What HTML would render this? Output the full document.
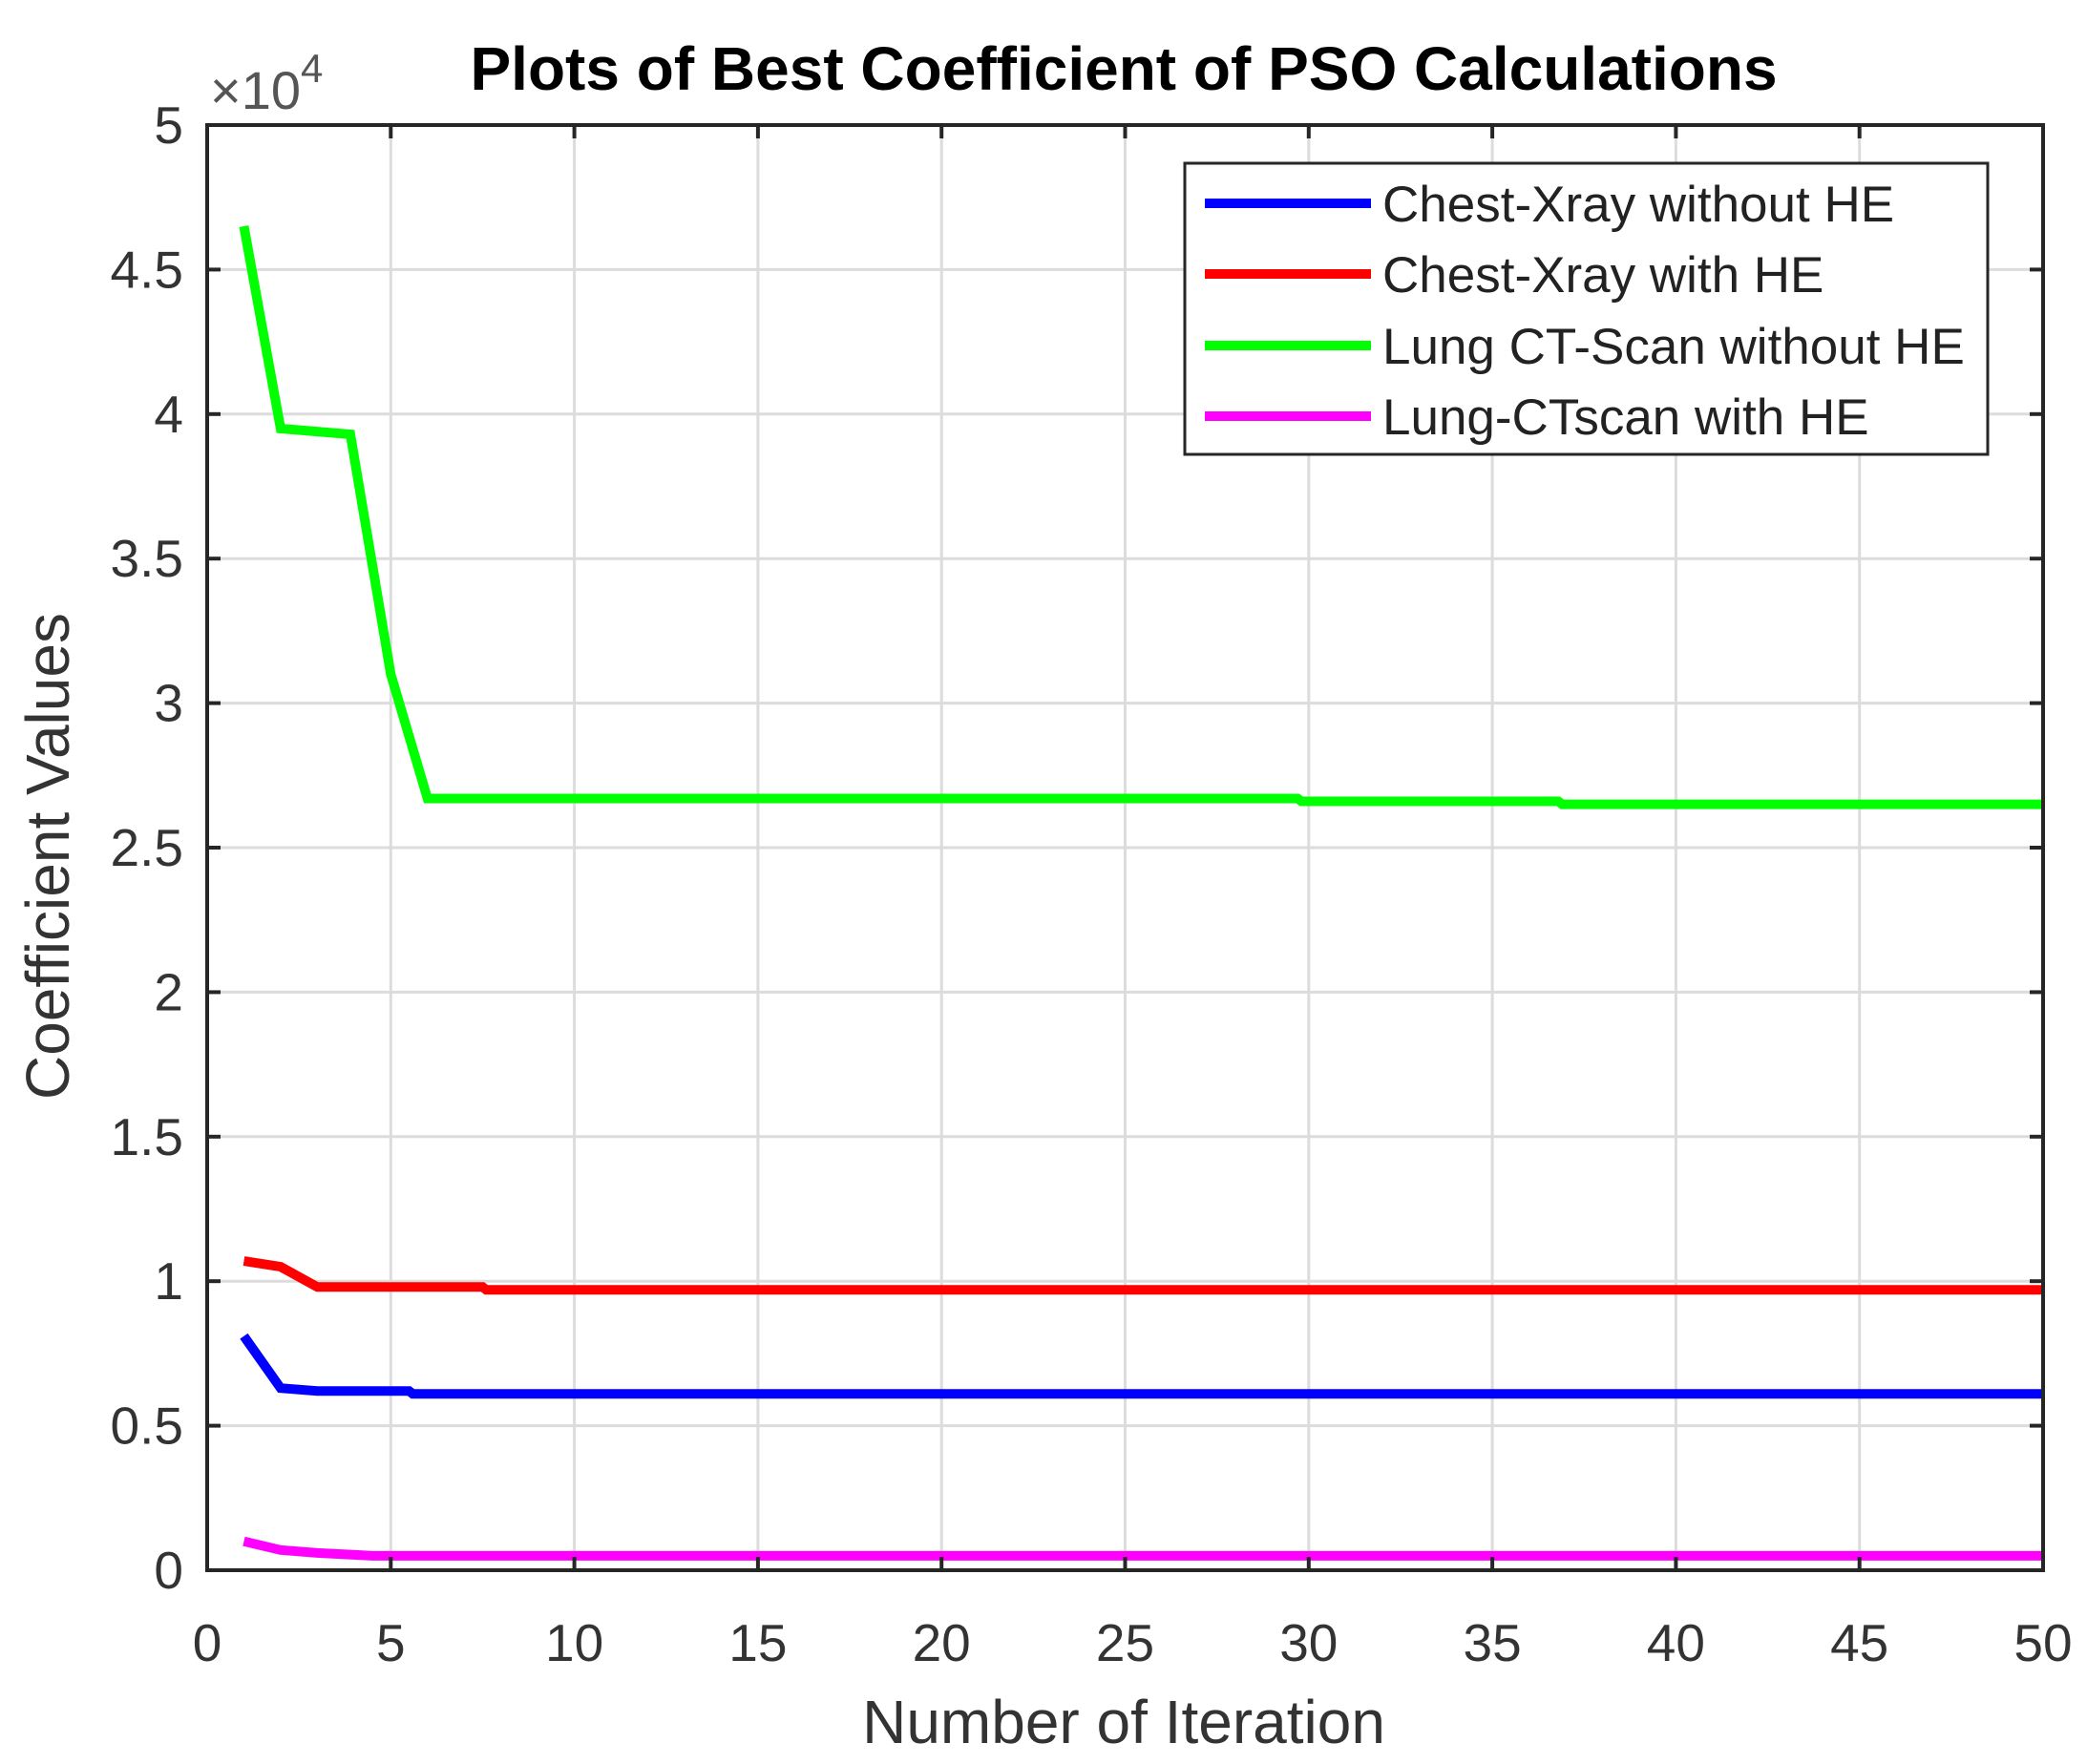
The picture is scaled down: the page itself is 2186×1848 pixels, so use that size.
<!DOCTYPE html>
<html><head><meta charset="utf-8"><style>
html,body{margin:0;padding:0;background:#fff;}
svg{display:block;font-family:"Liberation Sans",Arial,sans-serif;}
</style></head><body>
<svg id="chart" width="2186" height="1848" viewBox="0 0 2186 1848">
<rect width="2186" height="1848" fill="#fff"/>
<g id="grid"></g>
<g id="series"></g>
<g id="axes"></g>
<text x="1177" y="94" text-anchor="middle" font-size="64" font-weight="bold" fill="#000">Plots of Best Coefficient of PSO Calculations</text>
<text x="220" y="114" font-size="56" fill="#555">×10<tspan dy="-28" font-size="42">4</tspan></text>
<text x="1177" y="1826" text-anchor="middle" font-size="64" fill="#333">Number of Iteration</text>
<text transform="translate(72,897) rotate(-90)" text-anchor="middle" font-size="64" fill="#333">Coefficient Values</text>
<g id="legend"></g>
</svg>
<script>
const xTicks=[0,5,10,15,20,25,30,35,40,45,50];
const yTicks=[0,0.5,1,1.5,2,2.5,3,3.5,4,4.5,5];
const seriesNames=["Chest-Xray without HE","Chest-Xray with HE","Lung CT-Scan without HE","Lung-CTscan with HE"];
const seriesColors=["#0000ff","#ff0000","#00ff00","#ff00ff"];
const blueX=[1,2,3,5.5,5.6,50];
const blueY=[0.81,0.63,0.62,0.62,0.61,0.61];
const redX=[1,2,3,7.5,7.6,50];
const redY=[1.07,1.05,0.98,0.98,0.97,0.97];
const greenX=[1,2,3.9,5,6,29.7,29.8,36.8,36.9,50];
const greenY=[4.65,3.95,3.93,3.1,2.67,2.67,2.66,2.66,2.65,2.65];
const magentaX=[1,2,3,4.5,50];
const magentaY=[0.1,0.07,0.06,0.05,0.05];
const L=217,R=2140,T=131,B=1645;
const xs=v=>L+(v-0)/(50-0)*(R-L);
const ys=v=>B-(v-0)/(5-0)*(B-T);
const NS="http://www.w3.org/2000/svg";
function mk(tag,attrs,parent){const e=document.createElementNS(NS,tag);for(const k in attrs)e.setAttribute(k,attrs[k]);parent.appendChild(e);return e;}
const grid=document.getElementById('grid'),axes=document.getElementById('axes'),ser=document.getElementById('series'),leg=document.getElementById('legend');
xTicks.forEach(t=>{
  const g=mk('line',{x1:xs(t),x2:xs(t),y1:T,y2:B,stroke:'#dcdcdc','stroke-width':3},grid);
  
  
  mk('line',{x1:xs(t),x2:xs(t),y1:B,y2:B-14,stroke:'#262626','stroke-width':4},axes);
  mk('line',{x1:xs(t),x2:xs(t),y1:T,y2:T+14,stroke:'#262626','stroke-width':4},axes);
  const tx=mk('text',{x:xs(t),y:1740,'text-anchor':'middle','font-size':55,fill:'#333'},axes);
  tx.textContent=t;
  
  
});
yTicks.forEach(t=>{
  const g=mk('line',{x1:L,x2:R,y1:ys(t),y2:ys(t),stroke:'#dcdcdc','stroke-width':3},grid);
  
  
  mk('line',{x1:L,x2:L+14,y1:ys(t),y2:ys(t),stroke:'#262626','stroke-width':4},axes);
  mk('line',{x1:R,x2:R-14,y1:ys(t),y2:ys(t),stroke:'#262626','stroke-width':4},axes);
  const tx=mk('text',{x:192,y:ys(t)+19,'text-anchor':'end','font-size':55,fill:'#333'},axes);
  tx.textContent=t;
  
  
});
const frame=mk('rect',{x:L,y:T,width:R-L,height:B-T,fill:'none',stroke:'#262626','stroke-width':4},axes);


const allX=[blueX,redX,greenX,magentaX],allY=[blueY,redY,greenY,magentaY];
const keys=['blue','red','green','magenta'];
allX.forEach((xa,i)=>{
  const pts=xa.map((x,j)=>xs(x)+','+ys(allY[i][j])).join(' ');
  const p=mk('polyline',{points:pts,fill:'none',stroke:seriesColors[i],'stroke-width':10,'stroke-linejoin':'miter'},ser);
  
  
});
const lb=mk('rect',{x:1241,y:171,width:841,height:305,fill:'#fff',stroke:'#262626','stroke-width':3},leg);


const rowsY=[213,287,362,436];
seriesNames.forEach((n,i)=>{
  const ln=mk('line',{x1:1262,x2:1436,y1:rowsY[i],y2:rowsY[i],stroke:seriesColors[i],'stroke-width':10},leg);
  
  
  const tx=mk('text',{x:1448,y:rowsY[i]+19,'font-size':53,fill:'#222'},leg);
  tx.textContent=n;
  
  
});
</script>
</body></html>
